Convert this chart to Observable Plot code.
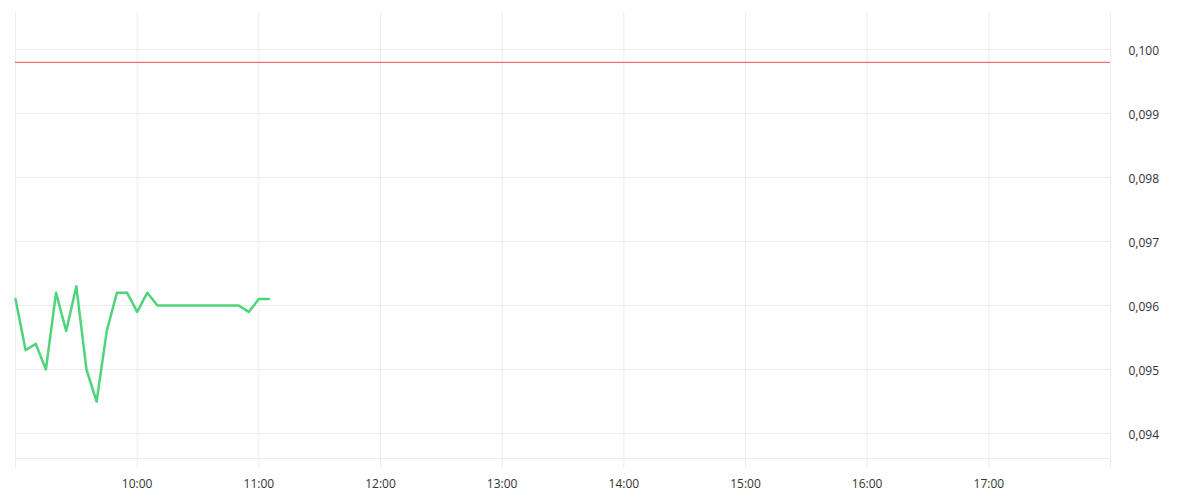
<!DOCTYPE html>
<html>
<head>
<meta charset="utf-8">
<script src="https://cdn.jsdelivr.net/npm/d3@7"></script>
<script src="https://cdn.jsdelivr.net/npm/@observablehq/plot@0.6"></script>
<style>
  html, body { margin: 0; padding: 0; background: #fff; }
  #chart { width: 1200px; height: 500px; }
</style>
</head>
<body>
<div id="chart"></div>
<script>
const times = ["09:00","09:05","09:10","09:15","09:20","09:25","09:30","09:35","09:40","09:45","09:50","09:55",
  "10:00","10:05","10:10","10:15","10:20","10:25","10:30","10:35","10:40","10:45","10:50","10:55","11:00","11:05"];
const values = [0.0961,0.0953,0.0954,0.0950,0.0962,0.0956,0.0963,0.0950,0.0945,0.0956,0.0962,0.0962,
  0.0959,0.0962,0.0960,0.0960,0.0960,0.0960,0.0960,0.0960,0.0960,0.0960,0.0960,0.0959,0.0961,0.0961];
const refLevel = 0.0998;
const yTicks = [0.094,0.095,0.096,0.097,0.098,0.099,0.100];
const xTickLabels = ["10:00","11:00","12:00","13:00","14:00","15:00","16:00","17:00"];
const gridHours = ["09:00","10:00","11:00","12:00","13:00","14:00","15:00","16:00","17:00","18:00"];
const yDomain = [0.0934531, 0.1005781];
const baselineValue = 0.0936094;

const toDate = s => { const [h,m] = s.split(":").map(Number); return new Date(Date.UTC(2024,0,2,h,m)); };
const data = times.map((t,i) => ({t: toDate(t), v: values[i]}));
const fmtY = d => d3.format(".3f")(d).replace(".", ",");

const chart = Plot.plot({
  width: 1200,
  height: 500,
  marginLeft: 15,
  marginRight: 90,
  marginTop: 12,
  marginBottom: 32,
  style: {fontFamily: "'Open Sans', sans-serif", fontSize: "12px", color: "#333", background: "#fff"},
  x: {type: "utc", domain: [toDate("09:00"), toDate("18:00")], axis: null, label: null},
  y: {domain: yDomain, axis: null, label: null},
  marks: [
    Plot.ruleY(yTicks, {stroke: "#ececec", strokeWidth: 1}),
    Plot.ruleY([baselineValue], {stroke: "#ececec", strokeWidth: 1}),
    Plot.ruleX(gridHours.map(toDate), {stroke: "#ececec", strokeWidth: 1}),
    Plot.ruleY([refLevel], {stroke: "#ff4d55", strokeWidth: 1}),
    Plot.line(data, {x: "t", y: "v", stroke: "#4fd47c", strokeWidth: 2.5, curve: "linear"}),
    Plot.axisY(yTicks, {anchor: "right", label: null, tickSize: 0, tickPadding: 18, dy: 2, tickFormat: fmtY, fill: "#333", fontSize: 12}),
    Plot.axisX(xTickLabels.map(toDate), {anchor: "bottom", label: null, tickSize: 0, tickPadding: 10, dy: 1, tickFormat: d3.utcFormat("%H:%M"), fill: "#333", fontSize: 12})
  ]
});
document.getElementById("chart").appendChild(chart);
</script>
</body>
</html>
